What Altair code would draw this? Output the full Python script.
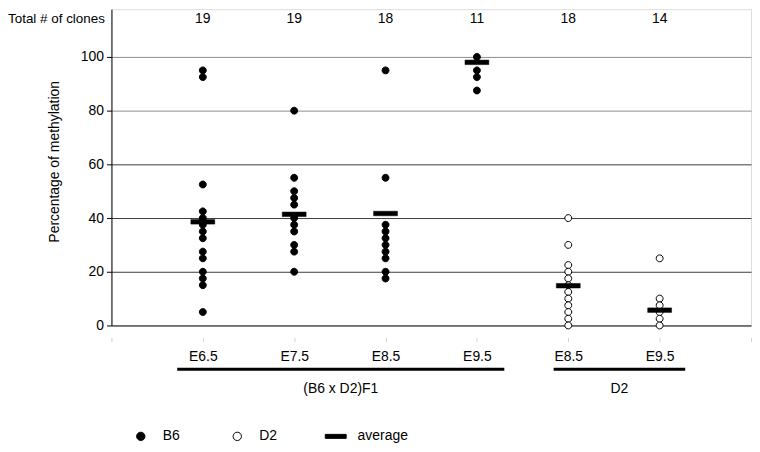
import json
import altair as alt
import pandas as pd

# ---------------- data ----------------
categories = ["E6.5", "E7.5", "E8.5", "E9.5", "E8.5", "E9.5"]
strains = ["B6", "B6", "B6", "B6", "D2", "D2"]
clone_totals = [19, 19, 18, 11, 18, 14]
averages = [38.6, 41.4, 41.7, 98.0, 14.8, 5.7]
methylation = [
    [95, 92.5, 52.5, 42.5, 40, 37.5, 35, 32.5, 27.5, 25, 20, 17.5, 15, 5],
    [80, 55, 50, 47.5, 45, 40, 37.5, 35, 30, 27.5, 20],
    [95, 55, 37.5, 35, 32.5, 30, 27.5, 25, 20, 17.5],
    [100, 95, 92.5, 87.5],
    [40, 30, 22.5, 20, 17.5, 15, 12.5, 10, 7.5, 5, 2.5, 0],
    [25, 10, 7.5, 5, 2.5, 0],
]
group_names = ["(B6 x D2)F1", "D2"]
group_members = [[0, 1, 2, 3], [4, 5]]
legend_labels = ["B6", "D2", "average"]
count_label = "Total # of clones"
y_title = "Percentage of methylation"
y_ticks = [0, 20, 40, 60, 80, 100]

# ---------------- layout / style ----------------
FONT = "Liberation Sans"
PLOT_W, PLOT_H = 643, 318
Y_MAX = 117.8
bracket_pads = [(0.28, 0.30), (0.16, 0.28)]
CIRCLE = "M-0.4,0A0.4,0.4,0,1,0,0.4,0A0.4,0.4,0,1,0,-0.4,0Z"
DASH = "M-1,-0.19H1V0.19H-1Z"

# ---------------- tables ----------------
pts = []
for i, vals in enumerate(methylation):
    for v in vals:
        pts.append({"pos": i + 1, "value": v, "series": strains[i]})
df_pts = pd.DataFrame(pts)
df_avg = pd.DataFrame({"pos": [i + 1 for i in range(len(averages))],
                       "value": averages, "series": ["average"] * len(averages)})
df_cnt = pd.DataFrame({"pos": [i + 1 for i in range(len(clone_totals))],
                       "label": [str(c) for c in clone_totals]})
grp = []
for name, mem, (pl, pr) in zip(group_names, group_members, bracket_pads):
    x1 = min(mem) + 1 - pl
    x2 = max(mem) + 1 + pr
    grp.append({"name": name, "x1": x1, "x2": x2, "mid": (x1 + x2) / 2})
df_grp = pd.DataFrame(grp)

n = len(categories)
tick_labels = [""] + categories + [""]
xscale = alt.Scale(domain=[0, n + 1], nice=False, zero=False)
xaxis = alt.Axis(values=list(range(n + 2)),
                 labelExpr=json.dumps(tick_labels) + "[datum.value]",
                 offset=12, domain=False, grid=False, tickColor="#d0d0d0",
                 tickSize=4, labelPadding=8, labelFontSize=14, labelColor="black",
                 labelFlush=False, labelOverlap=False, title=None)
yscale = alt.Scale(domain=[0, Y_MAX], nice=False, zero=True)
yaxis = alt.Axis(values=y_ticks, grid=True,
                 gridColor={"condition": [{"test": "datum.value == 0", "value": "black"},
                                          {"test": "datum.value >= 80", "value": "#8c8c8c"}],
                            "value": "#3a3a3a"},
                 gridWidth=1, domainColor="black", tickColor="black", tickSize=5,
                 labelPadding=3, labelFontSize=14, labelColor="black",
                 title=y_title, titleX=-57, titleY=153, titleAngle=270,
                 titleAlign="center", titleBaseline="middle", titleFontSize=14,
                 titleFontWeight="normal", titleColor="black")


def X(field):
    return alt.X(field, type="quantitative", scale=xscale, axis=xaxis)


def Y(field):
    return alt.Y(field, type="quantitative", scale=yscale, axis=yaxis)


legend = alt.Legend(title=None, orient="none", legendX=18.5, legendY=418.5,
                    direction="horizontal", symbolSize=441, labelFontSize=14,
                    labelColor="black", labelOffset=11, columnPadding=46,
                    symbolStrokeWidth=1, padding=0)
shape_scale = alt.Scale(domain=legend_labels, range=[CIRCLE, CIRCLE, DASH])
fill_scale = alt.Scale(domain=legend_labels, range=["black", "white", "black"])
stroke_scale = alt.Scale(domain=legend_labels, range=["black", "black", "black"])


def point_layer(df, size, sw):
    return alt.Chart(df).mark_point(filled=True, size=size, strokeWidth=sw,
                                    opacity=1).encode(
        x=X("pos"), y=Y("value"),
        shape=alt.Shape("series:N", scale=shape_scale, legend=legend),
        fill=alt.Fill("series:N", scale=fill_scale, legend=legend),
        stroke=alt.Stroke("series:N", scale=stroke_scale, legend=legend),
    )


dots = point_layer(df_pts, 300, 1)
avg = point_layer(df_avg, 576, 0.5)
counts = alt.Chart(df_cnt).mark_text(fontSize=14, color="black", baseline="middle").encode(
    x=X("pos"), y=alt.value(10), text="label:N")
total_lbl = alt.Chart(pd.DataFrame({"label": [count_label]})).mark_text(
    fontSize=13.5, color="black", align="left", baseline="middle").encode(
    x=alt.value(-104), y=alt.value(10), text="label:N")
brackets = alt.Chart(df_grp).mark_rule(strokeWidth=3, color="black").encode(
    x=X("x1"), x2="x2", y=alt.value(362))
group_txt = alt.Chart(df_grp).mark_text(fontSize=14, color="black", baseline="middle").encode(
    x=X("mid"), y=alt.value(382), text="name:N")

chart = alt.layer(dots, avg, counts, total_lbl, brackets, group_txt).properties(
    width=PLOT_W, height=PLOT_H,
    padding={"left": 104, "top": 0, "right": 1, "bottom": 118},
    autosize=alt.AutoSizeParams(type="none"),
).configure_view(stroke="#999999", strokeWidth=1).configure(font=FONT)

chart.save("out.html", embed_options={"renderer": "svg", "actions": False})
